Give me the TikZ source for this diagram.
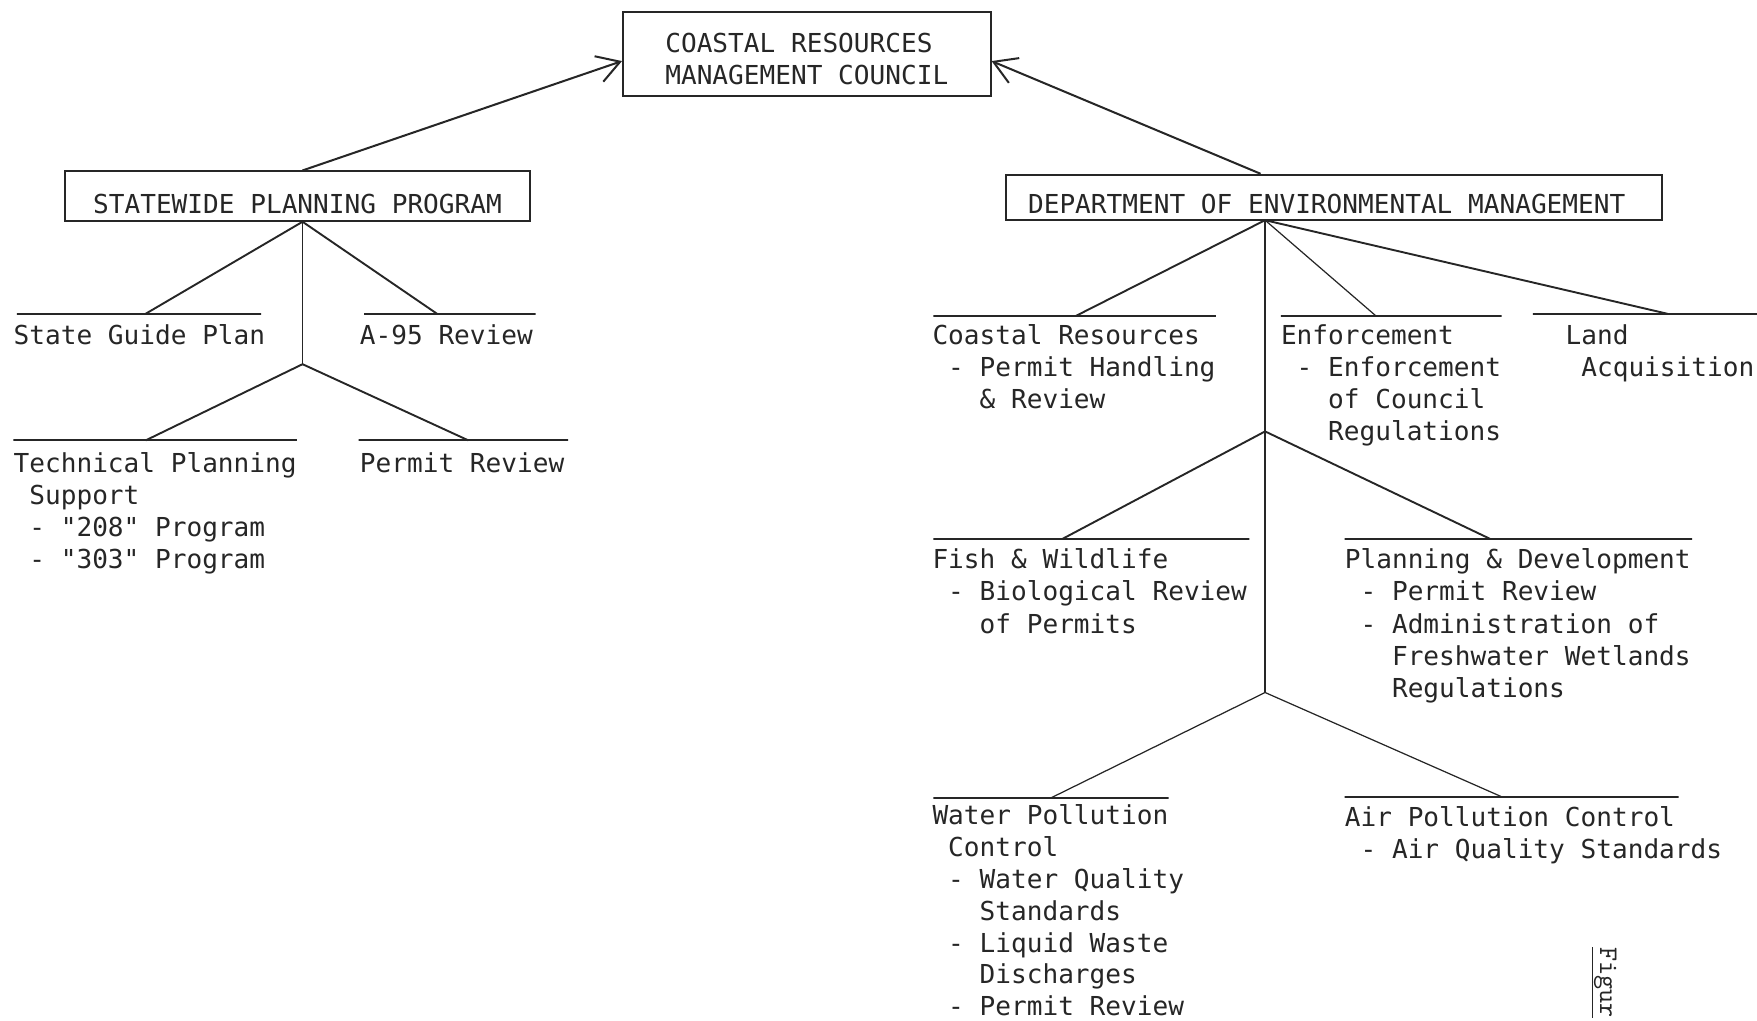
\documentclass[tikz,border=0pt]{standalone}
\usepackage{fontspec}
\setmonofont{DejaVu Sans Mono}
\newfontfamily\figfont{lmmono10-regular.otf}
\usetikzlibrary{arrows.meta,positioning}
\definecolor{cink}{HTML}{262626}

\begin{document}
\begin{tikzpicture}[
    x=1pt, y=-1pt,
    font=\ttfamily\fontsize{23.3}{28.7}\selectfont,
    text=cink,
    orgbox/.style={
        draw=cink, line width=1.8pt, inner sep=0pt,
        minimum width=#1,
    },
    unitbar/.style={
        draw=cink, line width=1.8pt, inner sep=0pt,
        minimum height=0pt, minimum width=#1,
    },
    unitlabel/.style={anchor=north west, inner sep=0pt, align=left},
    branch/.style={draw=cink, line width=1.7pt},
    thinbranch/.style={draw=cink, line width=1.1pt},
    stem/.style={draw=cink, line width=1.1pt},
    reportarrow/.style={draw=cink, line width=1.8pt,
        -{Straight Barb[length=20pt,width=24pt]}},
]
\useasboundingbox (0,0) rectangle (1568,911);

% ============================================================
% TOP: council and the two reporting bodies
% ============================================================
\node[orgbox=328, minimum height=75, align=left] (council) at (720,48.5) {
    \rule{0pt}{25pt}COASTAL RESOURCES\\MANAGEMENT COUNCIL
};

\node[orgbox=415, text height=37.5pt, text depth=6.5pt] (spp) at (265.5,175)
    {STATEWIDE PLANNING PROGRAM};

\node[orgbox=585, text height=34.5pt, text depth=5.5pt] (dem) at (1190.5,176)
    {DEPARTMENT OF ENVIRONMENTAL MANAGEMENT\kern13pt};

% Reporting arrows up to the council
\draw[reportarrow] ([xshift=4.5pt]spp.north) -- ([yshift=-6pt]council.west);
\draw[reportarrow] ([xshift=-65.5pt]dem.north) -- ([yshift=-6pt]council.east);

% ============================================================
% LEFT: statewide planning units
% ============================================================
\coordinate (spp-fork) at ([xshift=4.5pt]spp.south);
\coordinate (spp-low) at (270,325);

\node[unitbar=218] (sgp-bar) at (124,280) {};
\node[unitbar=153] (a95-bar) at (401.5,280) {};
\node[unitbar=253] (tps-bar) at (138.5,393) {};
\node[unitbar=187] (pr-bar) at (413.5,393) {};

\node[unitlabel] (sgp) at (12,289.5) {State Guide Plan};
\node[unitlabel] (a95) at (321,289.5) {A-95 Review};
\node[unitlabel] (tps) at (12,403.5) {
    Technical Planning\\
    \hphantom{0}Support\\
    \hphantom{0}- "208" Program\\
    \hphantom{0}- "303" Program
};
\node[unitlabel] (pr) at (321,403.5) {Permit Review};

\draw[branch] (spp-fork) -- ([xshift=6pt]sgp-bar.center);
\draw[branch] (spp-fork) -- ([xshift=-11.5pt]a95-bar.center);
\draw[stem] (spp-fork) -- (spp-low);
\draw[branch] (spp-low) -- ([xshift=-8.5pt]tps-bar.center);
\draw[branch] (spp-low) -- ([xshift=4.5pt]pr-bar.center);

% ============================================================
% RIGHT: environmental management divisions
% ============================================================
\coordinate (dem-fork) at (1129,196.5);
\coordinate (dem-mid) at (1129,385);
\coordinate (dem-low) at (1129,618);

\node[unitbar=252] (cr-bar) at (959,282) {};
\node[unitbar=197] (enf-bar) at (1241.5,282) {};
\node[unitbar=200] (land-bar) at (1468,280) {};
\node[unitbar=282] (fw-bar) at (974,481) {};
\node[unitbar=310] (pd-bar) at (1355,481) {};
\node[unitbar=210] (wpc-bar) at (938,712) {};
\node[unitbar=298] (apc-bar) at (1349,711) {};

\node[unitlabel] (cr) at (832,289.5) {
    Coastal Resources\\
    \hphantom{0}- Permit Handling\\
    \hphantom{000}\& Review
};
\node[unitlabel] (enf) at (1143,289.5) {
    Enforcement\\
    \hphantom{0}- Enforcement\\
    \hphantom{000}of Council\\
    \hphantom{000}Regulations
};
\node[unitlabel] (land) at (1397,289.5) {
    Land\\
    \hphantom{0}Acquisition
};
\node[unitlabel] (fw) at (832,489.5) {
    Fish \& Wildlife\\
    \hphantom{0}- Biological Review\\
    \hphantom{000}of Permits
};
\node[unitlabel] (pd) at (1200,489.5) {
    Planning \& Development\\
    \hphantom{0}- Permit Review\\
    \hphantom{0}- Administration of\\
    \hphantom{000}Freshwater Wetlands\\
    \hphantom{000}Regulations
};
\node[unitlabel, font=\ttfamily\fontsize{23.3}{28.4}\selectfont] (wpc) at (832,718) {
    Water Pollution\\
    \hphantom{0}Control\\
    \hphantom{0}- Water Quality\\
    \hphantom{000}Standards\\
    \hphantom{0}- Liquid Waste\\
    \hphantom{000}Discharges\\
    \hphantom{0}- Permit Review
};
\node[unitlabel] (apc) at (1200,719.5) {
    Air Pollution Control\\
    \hphantom{0}- Air Quality Standards
};

\draw[branch] (dem-fork) -- ([xshift=1pt]cr-bar.center);
\draw[thinbranch] (dem-fork) -- ([xshift=-13.5pt]enf-bar.center);
\draw[branch] (dem-fork) -- ([xshift=20pt]land-bar.center);
\draw[stem] (dem-fork) -- (dem-mid) -- (dem-low);
\draw[branch] (dem-mid) -- ([xshift=-26pt]fw-bar.center);
\draw[branch] (dem-mid) -- ([xshift=-25pt]pd-bar.center);
\draw[thinbranch] (dem-low) -- (wpc-bar.center);
\draw[thinbranch] (dem-low) -- ([xshift=-9pt]apc-bar.center);

% Figure caption running down the margin
\node[font=\figfont\fontsize{24}{28}\selectfont, rotate=-90,
    anchor=base west, inner sep=0pt] (figtag) at (1428,845) {\underline{Figur}};

\end{tikzpicture}
\end{document}
